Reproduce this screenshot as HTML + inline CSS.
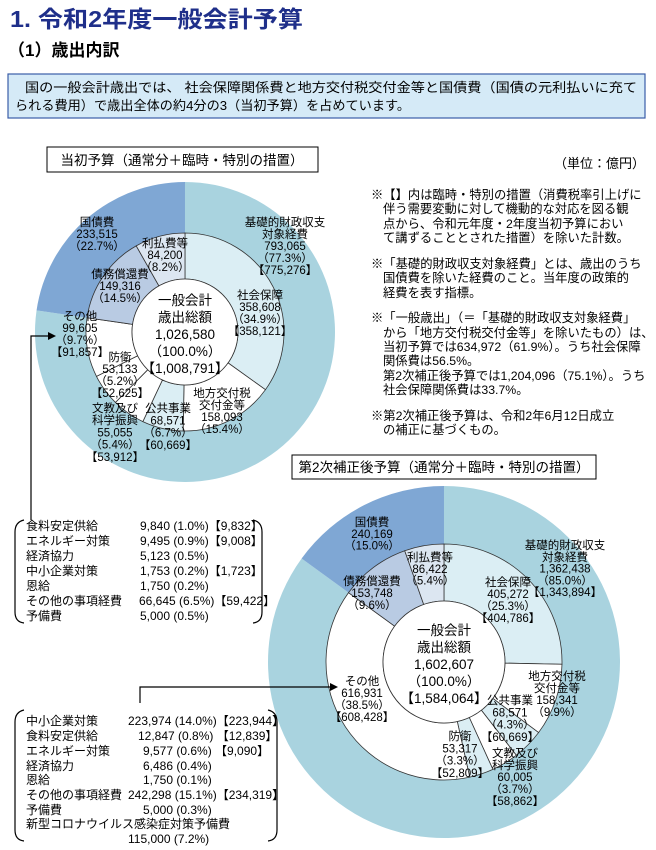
<!DOCTYPE html>
<html><head><meta charset="utf-8">
<style>
html,body{margin:0;padding:0;background:#fff;}
svg{display:block;font-family:"Liberation Sans","Noto Sans CJK JP",sans-serif;}
</style></head>
<body>
<svg id="s" width="656" height="850" viewBox="0 0 656 850" xmlns="http://www.w3.org/2000/svg">
<text x="10" y="27" font-size="23" font-weight="bold" fill="#1f2f8a" textLength="293" lengthAdjust="spacingAndGlyphs">1. 令和2年度一般会計予算</text>
<text x="8" y="56" font-size="17" font-weight="bold" fill="#000">（1）歳出内訳</text>
<rect x="8" y="74" width="637" height="44" fill="#d5eaf7" stroke="#3a5da8" stroke-width="1.2"/>
<g font-size="13" fill="#000">
<text x="25" y="92" textLength="612" lengthAdjust="spacingAndGlyphs">国の一般会計歳出では、 社会保障関係費と地方交付税交付金等と国債費（国債の元利払いに充て</text>
<text x="15" y="110" textLength="395" lengthAdjust="spacingAndGlyphs">られる費用）で歳出全体の約4分の3（当初予算）を占めています。</text>
</g>
<g id="d1"></g>
<g id="d2"></g>
<rect x="47" y="147" width="271" height="25" fill="#fff" stroke="#000"/>
<text x="182" y="165" font-size="13.5" text-anchor="middle">当初予算（通常分＋臨時・特別の措置）</text>
<rect x="292" y="455" width="304" height="24" fill="#fff" stroke="#000"/>
<text x="444" y="472" font-size="13.5" text-anchor="middle">第2次補正後予算（通常分＋臨時・特別の措置）</text>
<text x="645" y="168" font-size="13" text-anchor="end">（単位：億円）</text>
<g font-size="12.3">
<text x="371" y="199">※【】内は臨時・特別の措置（消費税率引上げに</text>
<text x="383" y="213">伴う需要変動に対して機動的な対応を図る観</text>
<text x="383" y="228">点から、令和元年度・2年度当初予算におい</text>
<text x="383" y="242">て講ずることとされた措置）を除いた計数。</text>
<text x="371" y="268">※「基礎的財政収支対象経費」とは、歳出のうち</text>
<text x="383" y="282">国債費を除いた経費のこと。当年度の政策的</text>
<text x="383" y="297">経費を表す指標。</text>
<text x="371" y="322">※「一般歳出」（＝「基礎的財政収支対象経費」</text>
<text x="383" y="337">から「地方交付税交付金等」を除いたもの）は、</text>
<text x="383" y="351">当初予算では634,972（61.9%）。うち社会保障</text>
<text x="383" y="365">関係費は56.5%。</text>
<text x="383" y="380">第2次補正後予算では1,204,096（75.1%）。うち</text>
<text x="383" y="394">社会保障関係費は33.7%。</text>
<text x="371" y="420">※第2次補正後予算は、令和2年6月12日成立</text>
<text x="383" y="434">の補正に基づくもの。</text>
</g>
<g stroke="#000" stroke-width="1.2" fill="none">
<path d="M31 520 V336 H50"/>
<path d="M140 703 V687 H332"/>
</g>
<path d="M56 336 L48 332 L48 340Z" fill="#000"/>
<path d="M338 687 L330 683 L330 691Z" fill="#000"/>
<g stroke="#000" stroke-width="1.2" fill="none">
<path d="M24 520 Q15 522 15 532 V612 Q15 622 24 623"/>
<path d="M253 520 Q262 522 262 532 V612 Q262 622 253 623"/>
<path d="M24 710 Q15 712 15 722 V830 Q15 840 24 841"/>
<path d="M268 710 Q277 712 277 722 V830 Q277 840 268 841"/>
</g>
<g font-size="12">
<text x="26" y="530">食料安定供給</text><text x="140" y="530">9,840 (1.0%)【9,832】</text>
<text x="26" y="545">エネルギー対策</text><text x="140" y="545">9,495 (0.9%)【9,008】</text>
<text x="26" y="560">経済協力</text><text x="140" y="560">5,123 (0.5%)</text>
<text x="26" y="575">中小企業対策</text><text x="140" y="575">1,753 (0.2%)【1,723】</text>
<text x="26" y="590">恩給</text><text x="140" y="590">1,750 (0.2%)</text>
<text x="26" y="605">その他の事項経費</text><text x="139" y="605">66,645 (6.5%)【59,422】</text>
<text x="26" y="620">予備費</text><text x="140" y="620">5,000 (0.5%)</text>

<text x="26" y="725">中小企業対策</text><text x="128" y="725">223,974 (14.0%)【223,944】</text>
<text x="26" y="740">食料安定供給</text><text x="138" y="740">12,847 (0.8%) 【12,839】</text>
<text x="26" y="755">エネルギー対策</text><text x="143" y="755">9,577 (0.6%) 【9,090】</text>
<text x="26" y="770">経済協力</text><text x="143" y="770">6,486 (0.4%)</text>
<text x="26" y="784">恩給</text><text x="143" y="784">1,750 (0.1%)</text>
<text x="26" y="799">その他の事項経費</text><text x="128" y="799">242,298 (15.1%)【234,319】</text>
<text x="26" y="814">予備費</text><text x="143" y="814">5,000 (0.3%)</text>
<text x="26" y="828">新型コロナウイルス感染症対策予備費</text>
<text x="128" y="843">115,000 (7.2%)</text>
</g>
<g id="labels" font-size="11.5" text-anchor="middle"></g>
</svg>
<script>
const NS="http://www.w3.org/2000/svg";
function arc(cx,cy,r0,r1,a0,a1){
  const p=(r,a)=>[cx+r*Math.sin(a*2*Math.PI),cy-r*Math.cos(a*2*Math.PI)];
  const L=(a1-a0)>0.5?1:0;
  const [x1,y1]=p(r1,a0),[x2,y2]=p(r1,a1),[x3,y3]=p(r0,a1),[x4,y4]=p(r0,a0);
  return `M${x1} ${y1} A${r1} ${r1} 0 ${L} 1 ${x2} ${y2} L${x3} ${y3} A${r0} ${r0} 0 ${L} 0 ${x4} ${y4}Z`;
}
function donut(g,cx,cy,R,ri,rc,kokusai,inner){
  const G=document.getElementById(g);
  const add=(d,f,s)=>{const e=document.createElementNS(NS,"path");e.setAttribute("d",d);e.setAttribute("fill",f);e.setAttribute("stroke",s||"none");e.setAttribute("stroke-width","0.8");G.appendChild(e);};
  add(arc(cx,cy,ri,R,0,1-kokusai),"#a9d3df");
  add(arc(cx,cy,ri,R,1-kokusai,0.99999),"#7fa7d4");
  let a=0;
  inner.forEach(([v,c])=>{add(arc(cx,cy,rc,ri,a,a+v),c,"#333");a+=v;});
  const c=document.createElementNS(NS,"circle");
  c.setAttribute("cx",cx);c.setAttribute("cy",cy);c.setAttribute("r",rc);c.setAttribute("fill","#fff");c.setAttribute("stroke","#333");c.setAttribute("stroke-width","0.8");G.appendChild(c);
}
const W="#ffffff",LB="#dbeef4",DB="#b9cbe3",PB="#dce6f1";
donut("d1",185,332,150,99,53,0.227,[[0.349,LB],[0.154,W],[0.067,LB],[0.054,W],[0.052,W],[0.097,W],[0.145,DB],[0.082,PB]]);
donut("d2",444,662,176,118,61,0.150,[[0.253,LB],[0.099,W],[0.043,LB],[0.037,W],[0.033,LB],[0.385,W],[0.096,DB],[0.054,PB]]);
const labels=[
[97,226,["国債費","233,515","（22.7%）"],12],
[165,247,["利払費等","84,200","（8.2%）"],12],
[120,278,["債務償還費","149,316","（14.5%）"],12],
[285,226,["基礎的財政収支","対象経費","793,065","（77.3%）","【775,276】"],12],
[260,299,["社会保障","358,608","（34.9%）","【358,121】"],12],
[80,320,["その他","99,605","（9.7%）","【91,857】"],12],
[120,361,["防衛","53,133","（5.2%）","【52,625】"],12],
[222,397,["地方交付税","交付金等","158,093","（15.4%）"],12],
[168,412,["公共事業","68,571","（6.7%）","【60,669】"],12.3],
[115,412,["文教及び","科学振興","55,055","（5.4%）","【53,912】"],12.2],
[372,526,["国債費","240,169","（15.0%）"],11.8],
[430,561,["利払費等","86,422","（5.4%）"],11.8],
[372,585,["債務償還費","153,748","（9.6%）"],12],
[565,549,["基礎的財政収支","対象経費","1,362,438","（85.0%）","【1,343,894】"],11.8],
[508,586,["社会保障","405,272","（25.3%）","【404,786】"],12],
[362,685,["その他","616,931","（38.5%）","【608,428】"],12],
[557,680,["地方交付税","交付金等","158,341","（9.9%）"],12],
[510,704,["公共事業","68,571","（4.3%）","【60,669】"],12.3],
[460,740,["防衛","53,317","（3.3%）","【52,809】"],12.3],
[515,757,["文教及び","科学振興","60,005","（3.7%）","【58,862】"],12]
];
const LG=document.getElementById("labels");
labels.forEach(([x,y,ls,dy])=>{ls.forEach((t,i)=>{const e=document.createElementNS(NS,"text");e.setAttribute("x",x);e.setAttribute("y",y+i*dy);e.textContent=t;LG.appendChild(e);});});
const centers=[[185,305,["一般会計","歳出総額","1,026,580","（100.0%）","【1,008,791】"],17],[444,635,["一般会計","歳出総額","1,602,607","（100.0%）","【1,584,064】"],17]];
centers.forEach(([x,y,ls,dy])=>{ls.forEach((t,i)=>{const e=document.createElementNS(NS,"text");e.setAttribute("x",x);e.setAttribute("y",y+i*dy);e.setAttribute("font-size","13.5");e.setAttribute("text-anchor","middle");e.textContent=t;LG.appendChild(e);});});
</script>
</body></html>
